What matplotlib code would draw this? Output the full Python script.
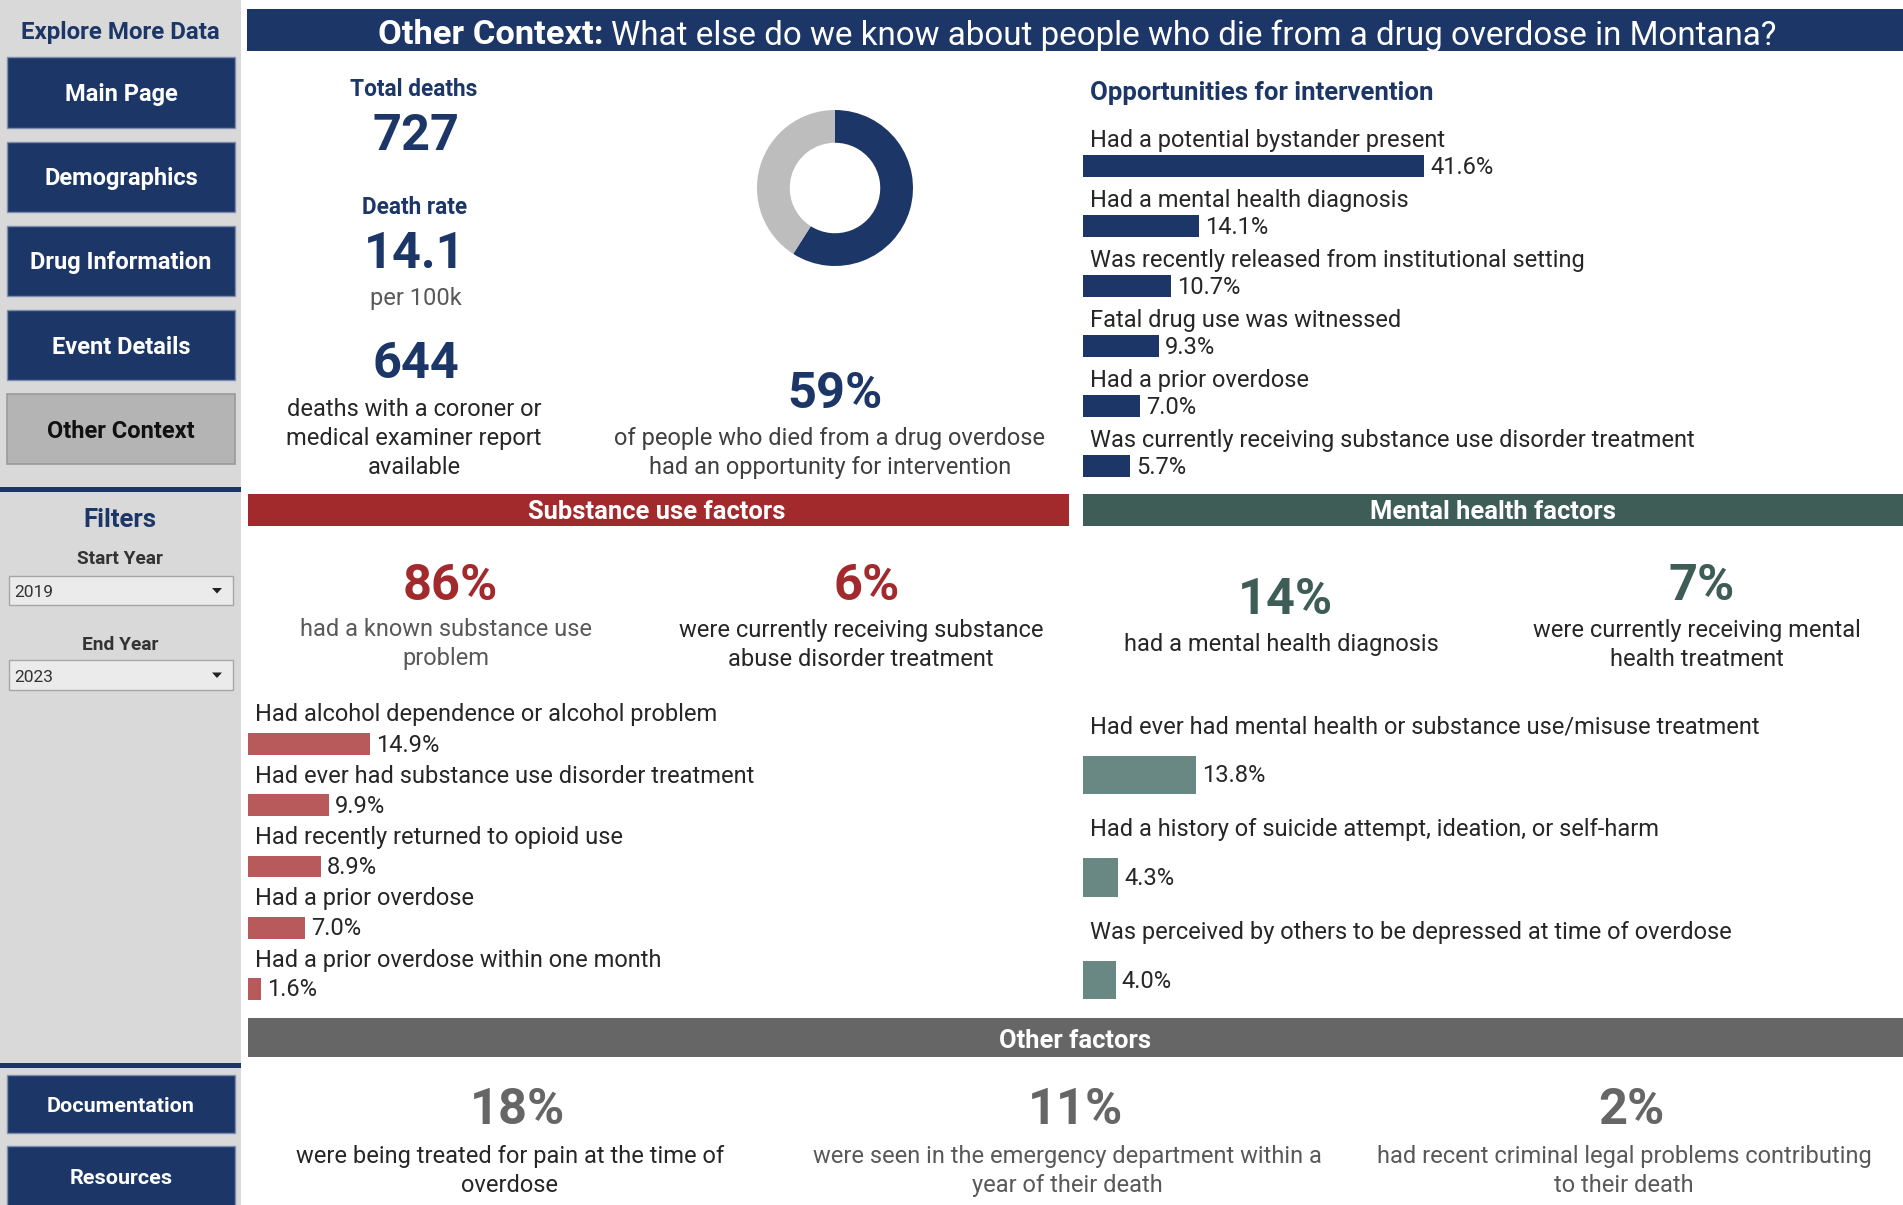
import matplotlib
matplotlib.use("Agg")
import matplotlib.pyplot as plt
from matplotlib.patches import Rectangle, Polygon

# ---------------- data ----------------
total_deaths = "727"
death_rate = "14.1"
reports_available = "644"
opportunity_pct = [59, 41]          # had opportunity / not

intervention_labels = [
    "Had a potential bystander present",
    "Had a mental health diagnosis",
    "Was recently released from institutional setting",
    "Fatal drug use was witnessed",
    "Had a prior overdose",
    "Was currently receiving substance use disorder treatment",
]
intervention_values = [41.6, 14.1, 10.7, 9.3, 7.0, 5.7]

substance_labels = [
    "Had alcohol dependence or alcohol problem",
    "Had ever had substance use disorder treatment",
    "Had recently returned to opioid use",
    "Had a prior overdose",
    "Had a prior overdose within one month",
]
substance_values = [14.9, 9.9, 8.9, 7.0, 1.6]

mental_labels = [
    "Had ever had mental health or substance use/misuse treatment",
    "Had a history of suicide attempt, ideation, or self-harm",
    "Was perceived by others to be depressed at time of overdose",
]
mental_values = [13.8, 4.3, 4.0]

substance_kpis = ["86%", "6%"]
mental_kpis = ["14%", "7%"]
other_kpis = ["18%", "11%", "2%"]

nav_buttons = ["Main Page", "Demographics", "Drug Information", "Event Details", "Other Context"]
start_year, end_year = "2019", "2023"

# ---------------- style ----------------
NAVY = "#1c3767"
RED = "#a2292c"
RED_BAR = "#b85a5c"
GREEN = "#3e5d56"
GREEN_BAR = "#6a8883"
GRAY_HDR = "#666666"
SIDEBAR = "#d9d9d9"
DARK = "#262626"
MID = "#595959"

plt.rcParams["font.family"] = ["Roboto", "DejaVu Sans"]

W, H = 1903, 1205
fig = plt.figure(figsize=(W / 100, H / 100), dpi=100)
fig.patch.set_facecolor("white")
base = fig.add_axes([0, 0, 1, 1])
base.set_xlim(0, W)
base.set_ylim(H, 0)
base.axis("off")
renderer = fig.canvas.get_renderer()


def width(s, size, weight="normal"):
    t = base.text(0, 0, s, fontsize=size, fontweight=weight)
    w = t.get_window_extent(renderer).width
    t.remove()
    return w


def fit(s, target, weight="normal"):
    return 20 * target / width(s, 20, weight)


BODY = fit("Was currently receiving substance use disorder treatment", 601)
VAL = fit("41.6%", 64)
BIG = fit("727", 87, "bold")
SUB = fit("Opportunities for intervention", 342, "bold")
TOT = fit("Total deaths", 127, "bold")
BAR_T = fit("Substance use factors", 256, "bold")
NAV = fit("Drug Information", 181, "bold")
EXPLORE = fit("Explore More Data", 199, "bold")
DOC = fit("Documentation", 147, "bold")
FILT = fit("Filters", 73, "bold")
YEARL = fit("Start Year", 86, "bold")
DROP = fit("2019", 39)


def rect(x0, y0, x1, y1, fc, ec="none", lw=0, z=1):
    base.add_patch(Rectangle((x0, y0), x1 - x0, y1 - y0, fc=fc, ec=ec, lw=lw, zorder=z))


def txt(x, y, s, size, color, weight="normal", ha="center", va="center", dy=None):
    if dy is None:
        dy = 4 if size >= 0.9 * BIG else 2
    return base.text(x, y + dy, s, fontsize=size, color=color, fontweight=weight,
                     ha=ha, va=va, zorder=5)


def lines(x, y0, step, items, size, color, weight="normal"):
    for i, s in enumerate(items):
        txt(x, y0 + i * step, s, size, color, weight)


# ---------------- sidebar ----------------
rect(0, 0, 241, H, SIDEBAR)
txt(120, 30, "Explore More Data", EXPLORE, NAVY, "bold")
btn_rows = [(57, 128), (142, 212), (226, 296), (310, 380), (394, 464)]
for (y0, y1), name in zip(btn_rows, nav_buttons):
    if name == "Other Context":
        rect(7, y0, 235, y1, "#b4b4b4", "#9a9a9a", 1.2, 2)
        txt(121, (y0 + y1) / 2, name, NAV, "#111111", "bold")
    else:
        rect(7, y0, 235, y1, NAVY, "#7d8db0", 1.0, 2)
        txt(121, (y0 + y1) / 2, name, NAV, "white", "bold")
rect(0, 487, 241, 492, NAVY, z=2)
txt(120, 518, "Filters", FILT, NAVY, "bold")
txt(120, 557, "Start Year", YEARL, "#333333", "bold")
txt(120, 643, "End Year", YEARL, "#333333", "bold")
for (y0, y1), yr in [((576, 605), start_year), ((660, 690), end_year)]:
    rect(9, y0, 233, y1, "#ebebeb", "#a6a6a6", 1.0, 2)
    txt(14, (y0 + y1) / 2, yr, DROP, "#333333", ha="left")
    ym = (y0 + y1) / 2
    base.add_patch(Polygon([(212, ym - 2.5), (222, ym - 2.5), (217, ym + 3)],
                           closed=True, fc="#222222", ec="none", zorder=5))
rect(0, 1063, 241, 1068, NAVY, z=2)
rect(7, 1075, 235, 1133, NAVY, "#7d8db0", 1.0, 2)
txt(121, 1104, "Documentation", DOC, "white", "bold")
rect(7, 1146, 235, H + 5, NAVY, "#7d8db0", 1.0, 2)
txt(121, 1176, "Resources", DOC, "white", "bold")

# ---------------- header ----------------
rect(247, 9, W, 51, NAVY)
bold_part = "Other Context:"
norm_part = "What else do we know about people who die from a drug overdose in Montana?"
wb, wn = width(bold_part, 20, "bold"), width(norm_part, 20)
HEAD = 20 * 1380 / (wb + wn)
wb_px = wb * HEAD / 20
gap = 0.27 * HEAD * 100 / 72
x_start = 1072 - (wb_px + gap + wn * HEAD / 20) / 2
txt(x_start, 35, bold_part, HEAD * 1.04, "white", "bold", ha="left", dy=0)
txt(x_start + wb_px * 1.04 + gap, 36, norm_part, HEAD, "white", ha="left", dy=0)

# ---------------- top-left stats ----------------
txt(414, 88, "Total deaths", TOT, NAVY, "bold")
txt(416, 133, total_deaths, BIG, NAVY, "bold")
txt(415, 206, "Death rate", TOT, NAVY, "bold")
txt(415, 251, death_rate, BIG, NAVY, "bold")
txt(416, 296, "per 100k", BODY, MID)
txt(416, 361, reports_available, BIG, NAVY, "bold")
lines(414, 408, 28.5, ["deaths with a coroner or", "medical examiner report", "available"], BODY, DARK)

# donut
R = 78
dax = fig.add_axes([(835 - R) / W, 1 - (188 + R) / H, 2 * R / W, 2 * R / H])
dax.pie(opportunity_pct, colors=[NAVY, "#bdbdbd"], startangle=90, counterclock=False,
        radius=1, wedgeprops=dict(width=0.42, edgecolor="none"))
dax.set_xlim(-1, 1)
dax.set_ylim(-1, 1)
dax.set_aspect("equal")
dax.axis("off")
txt(835, 390, f"{opportunity_pct[0]}%", BIG, NAVY, "bold")
lines(830, 437, 28.5, ["of people who died from a drug overdose",
                       "had an opportunity for intervention"], BODY, "#404040")

# ---------------- bar panels ----------------
PX_PER_PCT = 8.2


def bar_panel(left, right, c0, spacing, bar_h, label_dy, labels, values, color, label_dx=7):
    n = len(values)
    top = c0 - spacing / 2
    ax = fig.add_axes([left / W, 1 - (top + n * spacing) / H,
                       (right - left) / W, n * spacing / H])
    ax.set_xlim(0, (right - left) / PX_PER_PCT)
    ax.set_ylim(n - 0.5, -0.5)
    ax.axis("off")
    ax.barh(range(n), values, height=bar_h / spacing, color=color, left=0)
    for i, (lab, v) in enumerate(zip(labels, values)):
        ax.text(label_dx / PX_PER_PCT, i + label_dy / spacing, lab, ha="left",
                va="center", fontsize=BODY, color=DARK, clip_on=False)
        ax.annotate(f"{v:.1f}%", (v, i), xytext=(6 * 0.72, -1 * 0.72), textcoords="offset points",
                    ha="left", va="center", fontsize=VAL, color=DARK, annotation_clip=False)
    return ax


txt(1090, 92, "Opportunities for intervention", SUB, NAVY, "bold", ha="left", dy=1)
bar_panel(1083, W, 166, 60, 22, -26, intervention_labels, intervention_values, NAVY)

# substance use section
rect(248, 494, 1069, 526, RED)
txt(657, 510, "Substance use factors", BAR_T, "white", "bold")
txt(450, 583, substance_kpis[0], BIG, RED, "bold")
lines(446, 628, 29, ["had a known substance use", "problem"], BODY, MID)
txt(867, 583, substance_kpis[1], BIG, RED, "bold")
lines(861, 628, 29, ["were currently receiving substance", "abuse disorder treatment"], BODY, DARK)
bar_panel(248, 1069, 744, 61.25, 21.7, -29, substance_labels, substance_values, RED_BAR)

# mental health section
rect(1083, 494, W, 526, GREEN)
txt(1493, 510, "Mental health factors", BAR_T, "white", "bold")
txt(1285, 597, mental_kpis[0], BIG, GREEN, "bold")
txt(1281, 642, "had a mental health diagnosis", BODY, DARK)
txt(1702, 583, mental_kpis[1], BIG, GREEN, "bold")
lines(1697, 628, 29, ["were currently receiving mental", "health treatment"], BODY, DARK)
bar_panel(1083, W, 775, 102.5, 38.5, -48, mental_labels, mental_values, GREEN_BAR)

# other factors
rect(248, 1018, W, 1057, GRAY_HDR)
txt(1075, 1039, "Other factors", BAR_T, "white", "bold")
other_text = [
    (["were being treated for pain at the time of", "overdose"], DARK),
    (["were seen in the emergency department within a", "year of their death"], MID),
    (["had recent criminal legal problems contributing", "to their death"], MID),
]
for kx, tx, k, (tl, col) in zip([518, 1075, 1631], [510, 1067, 1624], other_kpis, other_text):
    txt(kx, 1107, k, BIG, GRAY_HDR, "bold")
    lines(tx, 1155, 28.5, tl, BODY, col)

fig.savefig("out.png", dpi=100, facecolor="white")
